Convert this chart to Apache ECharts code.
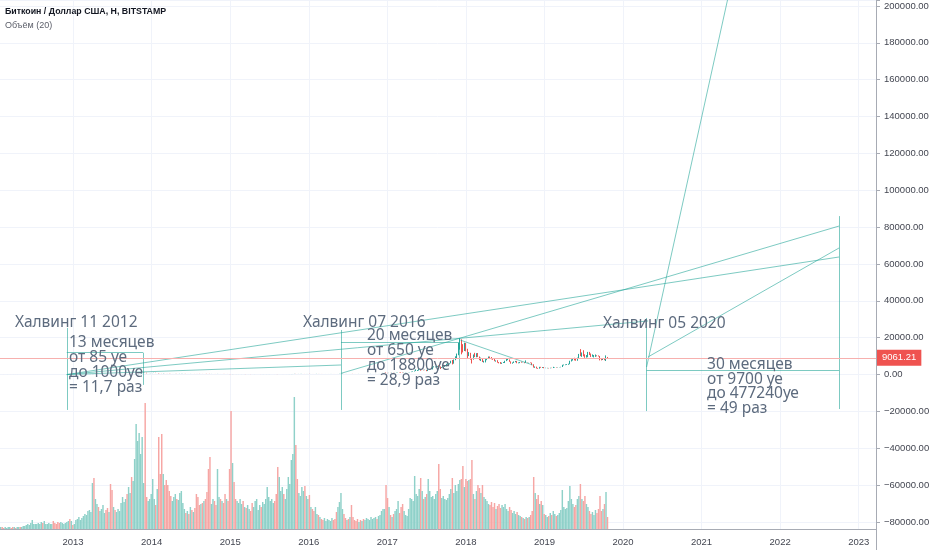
<!DOCTYPE html>
<html><head><meta charset="utf-8">
<script src="https://cdn.jsdelivr.net/npm/echarts@6/dist/echarts.min.js"></script>
<style>html,body{margin:0;padding:0;background:#fff}#c{width:932px;height:550px}</style>
</head><body><div id="c"></div>
<script>
// ---------- DATA ----------
const FIRST_WEEK = '2012-01-02';            // weekly candles, BITSTAMP BTC/USD
const LAST_PRICE = 9061.21;

const close2012 = [6.8,6.4,6.3,5.6, 5.9,5.4,4.9,4.9, 4.9,5.0,5.3,4.9,4.8, 5.0,4.9,5.0,5.1, 5.0,5.1,5.1,5.1,5.1, 5.3,5.6,6.4,6.6, 6.7,7.6,8.8,8.9, 10.9,11.6,10.2,10.4, 11.0,11.3,12.1,12.4,12.4, 12.0,11.7,11.6,10.8, 10.6,11.0,11.8,12.3, 12.6,13.0,13.4,13.3,13.5];
const close2013 = [13.4,14.0,15.5,17.8, 20.5,24.0,27.0,30.0, 33,46,47,72,93, 130,93,120,127, 112,115,123,129,129, 120,104,106,96, 77,94,89,96, 104,106,115,117,123, 134,124,126,133, 124,140,156,186, 207,350,445,800,1120, 980,700,700,730];
const close2014 = [800,860,960,820, 830,660,620,560, 670,630,600,570,480, 440,450,460,500, 440,450,520,580,630, 650,590,600,590, 630,620,620,590, 580,560,500,510,480, 480,470,400,390, 320,360,360,350, 330,370,380,370, 375,350,320,320,310];
const close2015 = [270,210,250,230, 225,235,255,255, 275,270,285,245,245, 255,225,220,225, 235,240,240,240, 225,230,245,250,260, 270,290,290,290, 280,260,230,230,230, 240,230,230,235, 245,260,285,315, 385,335,325,360, 390,440,440,420,430];
const close2016 = [450,380,390,380, 375,380,440,420,435, 420,410,410,415, 420,425,445,460, 450,445,440,450,530, 575,680,650,640, 665,650,660,655, 590,585,580,575,610, 605,610,600,610, 615,640,655,700,705, 705,740,730,745, 765,780,890,960];
const close2017 = [900,820,920,915,1020, 1010,1050,1190,1265, 1180,1020,965,1080, 1180,1190,1250,1350, 1550,1720,2000,2050,2400, 2900,2500,2600,2500, 2550,1900,2750,2750,2850, 4100,4100,4350,4600, 4200,3700,3800,4350, 4600,5700,5900,6100,7400, 5950,8000,9700,10900, 15000,19000,13900,13850];
const close2018 = [16200,13600,11500,11750,8200, 8100,10400,9600,11500, 9600,8200,8500,6900, 7000,8000,8900,9300,8700, 8500,8200,7350,7500, 6700,6450,6200,6400, 6750,7400,8200,8200,7000, 6300,6450,7000,7000, 6250,6500,6700,6600, 6600,6450,6500,6350,6400, 6350,5500,3800,4000, 3600,3200,4000,3900,4050];
const close2019 = [3500,3550,3550,3450, 3650,3600,3850,3900, 3880,4000,4000,4100, 5050,5150,5300,5300,5700, 7200,8200,8700,8600, 7700,8900,10850,10750, 11300,10300,9500,9500,11800, 11350,10200,10300,10300, 10400,10300,10000,8200,8050, 8300,8200,9550,9061.21];

const high2017 = [1150,915,930,930,1030, 1070,1050,1200,1280, 1300,1250,1080,1090, 1200,1220,1260,1350, 1580,1780,2100,2800,2450, 2990,3000,2800,2600, 2650,2550,2900,2850,2900, 4200,4480,4350,4700, 4980,4400,4100,4380, 4700,5850,6200,6150,7500, 7900,8200,9900,11400, 17200,19700,19100,16500];
const low2017  = [880,750,800,880,910, 970,980,1040,1140, 1120,940,890,930, 1070,1160,1180,1210, 1340,1500,1700,1900,1950, 2200,2100,2400,2300, 2400,1850,1900,2600,2700, 2800,3900,3900,4200, 3900,3000,3600,3600, 4200,4500,5400,5500,6100, 5500,5900,7800,9000, 10500,13500,11000,12000];
const high2018 = [17300,17200,14000,12200,11800, 8900,10900,11800,11600, 11700,9800,9200,8500, 7500,8400,9000,9800,9800, 9500,8800,8500,7700, 7800,6800,6800,6500, 6800,7500,8500,8500,8200, 7150,6600,7150,7400, 7400,6600,6850,7000, 6700,6700,7700,6500,6400, 6600,6500,5600,4400, 4300,3600,4200,4200,4100];
const low2018  = [12800,12600,9000,10000,8100, 6000,8100,9500,9400, 9500,7800,7400,6800, 6500,6600,7800,8600,8700, 8300,8000,7250,7000, 6450,6100,5800,5800, 6300,6250,7300,7800,6900, 5900,5900,6300,6700, 6150,6100,6200,6450, 6500,6150,6400,6300,6150, 6300,5100,3800,3650, 3300,3150,3200,3700,3600];
const high2019 = [4100,3700,3650,3600, 3700,3700,4200,3950, 3950,4050,4100,4200, 5300,5450,5500,5650,5900, 7500,8300,8800,9100, 8700,9200,11200,13800, 12000,13200,11000,10600,12300, 12300,11450,10950,10600, 10900,10450,10400,10100,8500, 8800,8650,10400,9500];
const low2019  = [3450,3480,3400,3350, 3400,3500,3550,3700, 3700,3850,3950,3950, 4100,4950,5100,5200,5300, 5600,7100,7600,7700, 7500,7500,8900,10000, 9600,9900,9100,9200,9400, 10600,9500,9700,9300, 9600,9900,9800,7700,7700, 7900,7800,7350,9000];

// weekly volume (thousand BTC, estimated)
const vol2012 = [1,1,2,1,2,2,1,2,1,2,2,1,2,2,1,2,2,2,2,3,3, 4,5,4,6,9,5, 5,5,6,5,7,6,8,5,5,6,5,5, 8, 6,5,7,6,7,6,5,6,7,8,10,8];
const vol2013 = [4,5,9,10,12,9,11,13,15,14, 18,19,17, 46,51,30,25, 22,18,20,24,16,19,21,17, 45,39, 22,19,17,20,18,26,32, 27,30,35,42, 36,52,48,70, 105,88,96,75,92,46,126,32,28,30];
const vol2014 = [35,50,30,24,40, 92,55,95,55,44, 49,44,38,33, 28,32,35,30,29,36, 38,26,20, 16,18,15,22,19,17,21, 35,32,24,25,26,28,30, 37,60,72,25,30,28,24, 60,32,30,28,26,35,30,28];
const vol2015 = [60,118,66,47,30,28, 26,30,25,28,22,21, 24,20,18,26,22,28,30,19,24,22,27,25,30, 42,32,28,30,26,28,35, 62,52,38,42,35,30,40,52,45,69, 75,132,84,50,36,33,42,38,43,33];
const vol2016 = [30,34,22,20,18,22,15,14, 12,10,9,11,8,10,9,8,11,9,10, 17,22,27,36,20,15, 11,9,10,12, 24,12, 9,8,10,7,9,8,10,9,11,10,9,12,10,11,12, 10,13,14,18,20,20];
const vol2017 = [44,31,22,14,12,15,18,20,28,16,22,25,18,14,13,20, 31,30,28,53,35,33,40,51,38,30,32, 35,50,38,32,33,30,35,38,65,40, 31,33,30,29,31,35,40,51,36,44,38,45,49,50,63];
const vol2018 = [42,50,48,49,50,69,35,30,38,44,41,36,44,32, 30,28,25,24,27,22,26,20,23,25,21,24, 22,25,20,18,22,19,16,18,15,17,14, 13,12,11,10,12,11,12, 14,18,52,36,30,34,25,28,24];
const vol2019 = [15,14,12,13,16,14,18,15,13,14,16,19, 39,22,20,21,28,43,30,25,22,24,30,33,45, 30,28,33,25,22, 18,15,17,14,19,16, 20,33,18,20,25,37,12];

// axis ticks
const yearTicks = [2013,2014,2015,2016,2017,2018,2019,2020,2021,2022,2023];

// user drawings (trend lines / boxes), [decimal year, price]
const drawnLines = [
  [[2012.92, 25300],[2012.92,-19200]],
  [[2012.92, 11900],[2013.89, 11900]],
  [[2013.89, 11900],[2013.89, -5600]],
  [[2016.41, 24200],[2016.41,-19200]],
  [[2016.41, 17800],[2017.92, 17800]],
  [[2017.92, 19700],[2017.92,-19200]],
  [[2012.92, 12],[2016.41, 5200]],
  [[2012.92, 12],[2020.32, 29100]],
  [[2012.92, 12],[2022.75, 63800]],
  [[2016.41, 650],[2022.75, 80600]],
  [[2017.93, 18700],[2018.85, 5200]],
  [[2020.30, 30700],[2020.30,-19800]],
  [[2020.30, 2100],[2022.75, 2100]],
  [[2022.75, 86000],[2022.75,-18700]],
  [[2020.30, 4100],[2021.33, 203256]],
  [[2020.32, 9600],[2022.75, 68700]]
];
const notes = [
  {at:[2012.26, 28000], text:'Халвинг 11 2012'},
  {at:[2012.948, 5200], text:'13 месяцев\nот 85 уе\nдо 1000уе\n= 11,7 раз'},
  {at:[2015.926, 28000], text:'Халвинг 07 2016'},
  {at:[2016.74, 9000], text:'20 месяцев\nот 650 уе\nдо 18800уе\n= 28,9 раз'},
  {at:[2019.745, 27500], text:'Халвинг 05 2020'},
  {at:[2021.07, -6500], text:'30 месяцев\nот 9700 уе\nдо 477240уе\n= 49 раз'}
];

// ---------- BUILD ----------
const UP = '#26a69a', DN = '#ef5350', UPV = '#8fd1c9', DNV = '#f6a6a4';
const TEAL = 'rgba(38,166,154,0.6)';
const closes = [].concat(close2012, close2013, close2014, close2015, close2016, close2017, close2018, close2019);
const highs = [].concat(high2017, high2018, high2019);
const lows = [].concat(low2017, low2018, low2019);
const volumes = [].concat(vol2012, vol2013, vol2014, vol2015, vol2016, vol2017, vol2018, vol2019);
const detailStart = closes.length - highs.length;

function toYear(ts) {
  const y = new Date(ts).getUTCFullYear();
  const s = Date.UTC(y, 0, 1), e = Date.UTC(y + 1, 0, 1);
  return y + (ts - s) / (e - s);
}
const t0 = Date.parse(FIRST_WEEK + 'T00:00:00Z');
const candles = [], vols = [];
for (let i = 0; i < closes.length; i++) {
  const x = toYear(t0 + i * 7 * 86400000);
  const o = i ? closes[i - 1] : closes[0], c = closes[i];
  let lo = Math.min(o, c), hi = Math.max(o, c);
  if (i >= detailStart) { lo = Math.min(lo, lows[i - detailStart]); hi = Math.max(hi, highs[i - detailStart]); }
  candles.push([x, o, c, lo, hi]);
  vols.push({value: [x, volumes[i]], itemStyle: {color: c >= o ? UPV : DNV}});
}

const AXC = '#a7abb4', TXT = '#434651', GRID = '#f0f3fa';
const FONT = 'Liberation Sans';
const isInt = v => Math.abs(v - Math.round(v)) < 1e-6;

const chart = echarts.init(document.getElementById('c'), null, {renderer: 'canvas'});
const markData = drawnLines.map(s => [{coord: s[0]}, {coord: s[1]}]);
markData.push({
  yAxis: LAST_PRICE,
  lineStyle: {color: '#f7b0ae', width: 1, type: 'solid'},
  label: {show: true, position: 'end', formatter: LAST_PRICE.toFixed(2), color: '#fff',
          backgroundColor: DN, padding: [3, 5, 3, 5], fontSize: 9.5, fontFamily: FONT, distance: 1}
});

chart.setOption({
  animation: false,
  backgroundColor: '#fff',
  grid: [
    {left: -5.5, right: 56, top: 0, height: 522, containLabel: false, outerBoundsMode: 'none'},
    {left: -5.5, right: 56, bottom: 21, height: 140, containLabel: false, outerBoundsMode: 'none'}
  ],
  xAxis: [
    {type: 'value', gridIndex: 0, min: 2012, max: 2023.22, interval: 1,
     axisLine: {show: false}, axisTick: {show: false}, axisLabel: {show: false},
     splitLine: {show: true, lineStyle: {color: GRID}}},
    {type: 'value', gridIndex: 1, min: 2012, max: 2023.22, interval: 1,
     axisLine: {show: true, onZero: false, lineStyle: {color: AXC}}, axisTick: {show: false},
     axisLabel: {color: TXT, fontSize: 9.5, fontFamily: FONT, margin: 8,
       formatter: v => (isInt(v) && yearTicks.includes(Math.round(v))) ? String(Math.round(v)) : ''},
     splitLine: {show: true, lineStyle: {color: GRID}}}
  ],
  yAxis: [
    {type: 'value', gridIndex: 0, position: 'right', min: -80000, max: 203256, interval: 20000,
     axisLine: {show: true, lineStyle: {color: AXC}},
     axisTick: {show: true, length: 4, lineStyle: {color: AXC}},
     axisLabel: {color: TXT, fontSize: 9.5, fontFamily: FONT, margin: 8,
       formatter: v => (Math.abs(v % 20000) < 1e-6) ? (v < 0 ? '\u2212' + Math.abs(v).toFixed(2) : v.toFixed(2)) : ''},
     splitLine: {show: true, lineStyle: {color: GRID}}},
    {type: 'value', gridIndex: 1, min: 0, max: 140, show: false}
  ],
  series: [
    {type: 'bar', xAxisIndex: 1, yAxisIndex: 1, data: vols, barWidth: 1.45, z: 1},
    {type: 'candlestick', xAxisIndex: 0, yAxisIndex: 0, data: candles, barWidth: 1.3,
     encode: {x: 0, y: [1, 2, 3, 4]},
     itemStyle: {color: UP, color0: DN, borderColor: UP, borderColor0: DN, borderWidth: 1},
     markLine: {silent: true, symbol: ['none', 'none'], animation: false,
       lineStyle: {color: TEAL, width: 1, type: 'solid'}, label: {show: false},
       emphasis: {disabled: true}, data: markData},
     z: 3}
  ]
});

const gfx = [
  {type: 'line', shape: {x1: 876.5, y1: 0, x2: 876.5, y2: 550}, style: {stroke: AXC, lineWidth: 1}, z: 10},
  {type: 'text', left: 5, top: 7, style: {text: 'Биткоин / Доллар США, Н, BITSTAMP', fill: '#131722',
     fontSize: 8.8, fontWeight: 'bold', fontFamily: FONT}},
  {type: 'text', left: 5, top: 21, style: {text: 'Объём (20)', fill: '#5d606b', fontSize: 9, fontFamily: FONT}}
];
notes.forEach(n => {
  const p = chart.convertToPixel({xAxisIndex: 0, yAxisIndex: 0}, n.at);
  gfx.push({type: 'text', x: p[0], y: p[1], z: 20,
    style: {text: n.text, fill: '#5d6b7e', fontSize: 15.5, fontFamily: 'Noto Sans',
            lineHeight: 14.8, align: 'left', verticalAlign: 'middle'}});
});
chart.setOption({graphic: gfx});
</script>
</body></html>
